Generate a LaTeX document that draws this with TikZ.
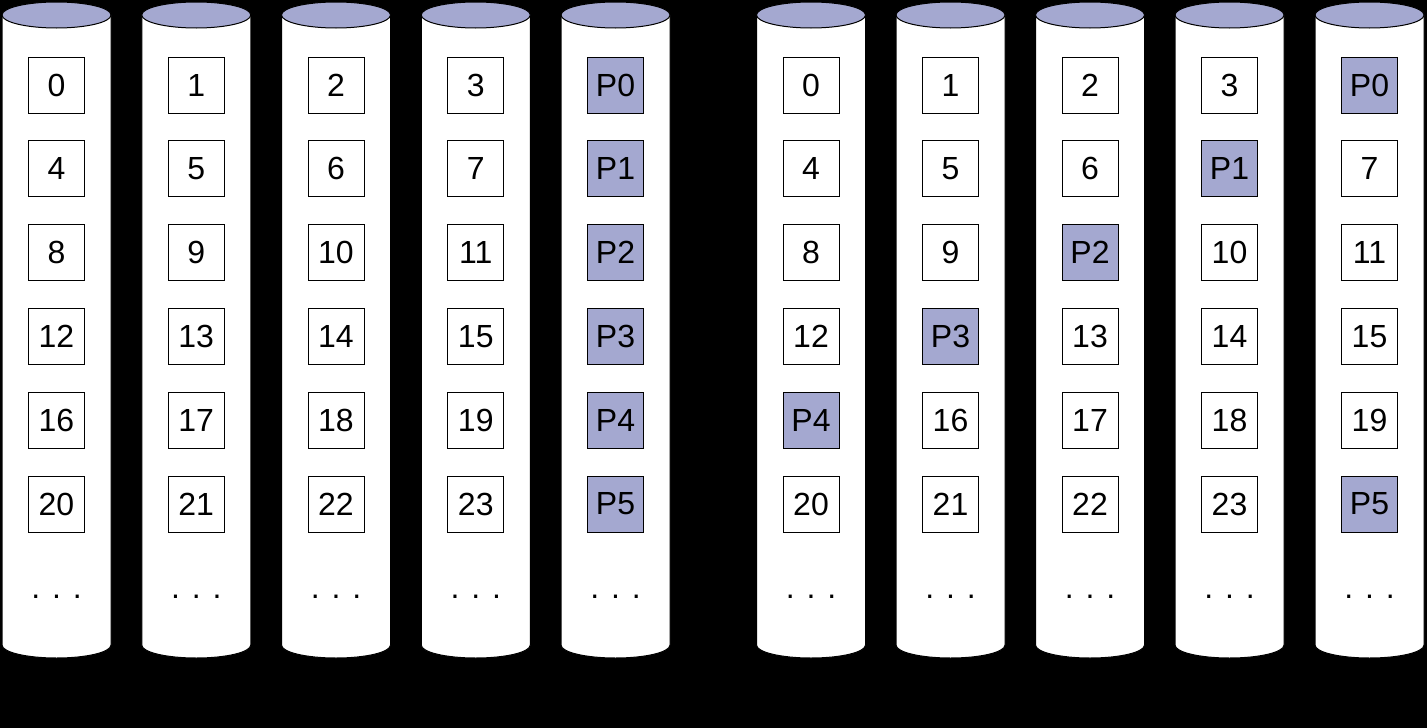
\documentclass[tikz,border=0pt]{standalone}
\usepackage{fontspec}
\setmainfont{Liberation Sans}
\usetikzlibrary{positioning}
\usepackage{xcolor}
\definecolor{parity}{HTML}{A4A8D0}
\def\firsttok#1#2\relax{#1}

\begin{document}
\begin{tikzpicture}[x=1pt, y=-1pt,
  cell/.style={draw=black, line width=1pt, fill=white, minimum size=56pt, inner sep=0pt, font=\fontsize{32}{36}\selectfont},
  paritycell/.style={cell, fill=parity},
  dotsnode/.style={inner sep=0pt, font=\fontsize{32}{36}\selectfont}]
  \fill[black] (0,0) rectangle (1427,728);
  \useasboundingbox (0,0) rectangle (1427,728);
  % Disks, left array then right array
  \foreach \cx/\cells [count=\d] in {56.5/{0,4,8,12,16,20}, 196.25/{1,5,9,13,17,21}, 336/{2,6,10,14,18,22}, 475.75/{3,7,11,15,19,23}, 615.5/{P0,P1,P2,P3,P4,P5},
      811/{0,4,8,12,P4,20}, 950.5/{1,5,9,P3,16,21}, 1090/{2,6,P2,13,17,22}, 1229.5/{3,P1,10,14,18,23}, 1369.5/{P0,7,11,15,19,P5}} {
    \filldraw[fill=white, draw=black, line width=1pt] (\cx-54.5,15) -- (\cx-54.5,645)
      arc[start angle=180, end angle=0, x radius=54.5, y radius=13] -- (\cx+54.5,15) -- cycle;
    \filldraw[fill=parity, draw=black, line width=1pt] (\cx,15) ellipse[x radius=54.5, y radius=13];
    % Blocks
    \foreach \lbl [count=\r from 0] in \cells {
      \if P\expandafter\firsttok\lbl\relax \def\cellstyle{paritycell}\else \def\cellstyle{cell}\fi
      \node[\cellstyle] (d\d-\r) at (\cx, {85+83.8*\r}) {\lbl};
    }
    \node[dotsnode] (dots\d) at (\cx, 597) {. . .};
  }
\end{tikzpicture}
\end{document}
